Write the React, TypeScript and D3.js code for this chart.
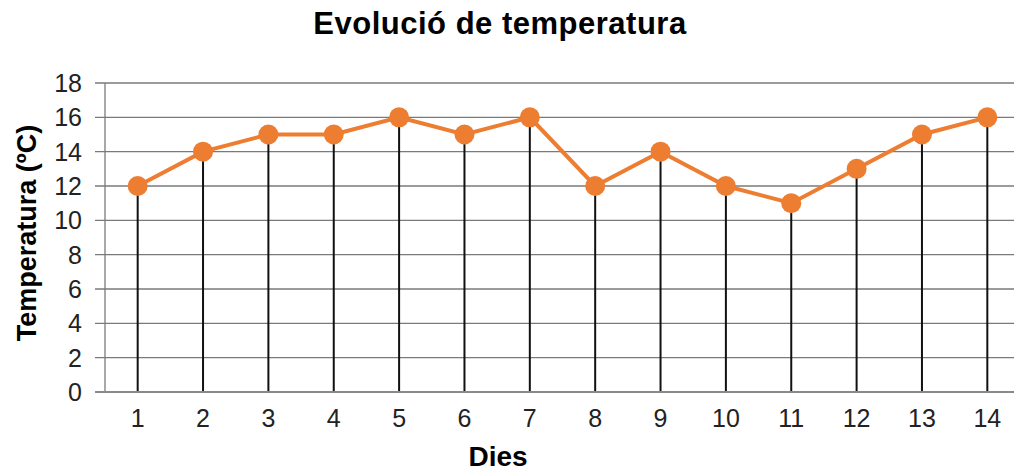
import { useEffect, useRef } from "react"
import * as d3 from "d3"

// Chart data
const days = ["1", "2", "3", "4", "5", "6", "7", "8", "9", "10", "11", "12", "13", "14"]
const temps = [12, 14, 15, 15, 16, 15, 16, 12, 14, 12, 11, 13, 15, 16]
const yTicks = [0, 2, 4, 6, 8, 10, 12, 14, 16, 18]

const W = 1014
const H = 472

export default function App() {
  const ref = useRef<SVGSVGElement>(null)

  useEffect(() => {
    const svg = d3.select(ref.current)
    svg.selectAll("*").remove()

    const margin = { top: 83, right: -6, bottom: 80, left: 105 }
    const font = "'Liberation Sans', Arial, sans-serif"

    const x = d3
      .scaleBand()
      .domain(days)
      .range([margin.left, W - margin.right])

    const y = d3
      .scaleLinear()
      .domain([0, 18])
      .range([H - margin.bottom, margin.top])

    // horizontal grid lines
    svg
      .append("g")
      .selectAll("line")
      .data(yTicks.filter((d) => d > 0))
      .enter()
      .append("line")
      .attr("x1", margin.left - 10)
      .attr("x2", W - margin.right)
      .attr("y1", (d) => y(d))
      .attr("y2", (d) => y(d))
      .style("stroke", "#7a7a7a")
      .style("stroke-width", 1.3)

    // left axis line
    svg
      .append("line")
      .attr("x1", margin.left)
      .attr("x2", margin.left)
      .attr("y1", y(18))
      .attr("y2", y(0))
      .style("stroke", "#7a7a7a")
      .style("stroke-width", 1.3)

    // y tick labels
    svg
      .append("g")
      .selectAll("text")
      .data(yTicks)
      .enter()
      .append("text")
      .attr("x", 82)
      .attr("y", (d) => y(d))
      .attr("dy", "0.36em")
      .attr("text-anchor", "end")
      .style("font-family", font)
      .style("font-size", "25px")
      .style("fill", "#222")
      .text((d) => d)

    const cx = (d: string) => (x(d) as number) + x.bandwidth() / 2

    // drop lines
    svg
      .append("g")
      .selectAll("line")
      .data(days)
      .enter()
      .append("line")
      .attr("x1", (d) => cx(d))
      .attr("x2", (d) => cx(d))
      .attr("y1", (d, i) => y(temps[i]))
      .attr("y2", y(0))
      .style("stroke", "#111")
      .style("stroke-width", 2)

    // bottom axis line
    svg
      .append("line")
      .attr("x1", margin.left - 10)
      .attr("x2", W - margin.right)
      .attr("y1", y(0))
      .attr("y2", y(0))
      .style("stroke", "#8a8a8a")
      .style("stroke-width", 2)

    // x tick labels
    svg
      .append("g")
      .selectAll("text")
      .data(days)
      .enter()
      .append("text")
      .attr("x", (d) => cx(d))
      .attr("y", 427)
      .attr("text-anchor", "middle")
      .style("font-family", font)
      .style("font-size", "25px")
      .style("fill", "#222")
      .text((d) => d)

    // line
    const line = d3
      .line<number>()
      .x((d, i) => cx(days[i]))
      .y((d) => y(d))

    svg
      .append("path")
      .datum(temps)
      .attr("d", line)
      .style("fill", "none")
      .style("stroke", "#ed7d31")
      .style("stroke-width", 4)

    // markers
    svg
      .append("g")
      .selectAll("circle")
      .data(temps)
      .enter()
      .append("circle")
      .attr("cx", (d, i) => cx(days[i]))
      .attr("cy", (d) => y(d))
      .attr("r", 10)
      .style("fill", "#ed7d31")

    // titles
    svg
      .append("text")
      .attr("x", 500)
      .attr("y", 34)
      .attr("text-anchor", "middle")
      .style("font-family", font)
      .style("font-weight", "bold")
      .style("font-size", "31px")
      .style("letter-spacing", "0.5px")
      .text("Evolució de temperatura")

    svg
      .append("text")
      .attr("x", 498)
      .attr("y", 466)
      .attr("text-anchor", "middle")
      .style("font-family", font)
      .style("font-weight", "bold")
      .style("font-size", "28px")
      .text("Dies")

    svg
      .append("text")
      .attr("transform", `translate(36, 233) rotate(-90)`)
      .attr("text-anchor", "middle")
      .style("font-family", font)
      .style("font-weight", "bold")
      .style("font-size", "27px")
      .text("Temperatura (ºC)")
  }, [])

  return (
    <div style={{ position: "absolute", left: 0, top: 0 }}>
      <svg ref={ref} width={W} height={H} style={{ display: "block", background: "#fff" }} />
    </div>
  )
}
